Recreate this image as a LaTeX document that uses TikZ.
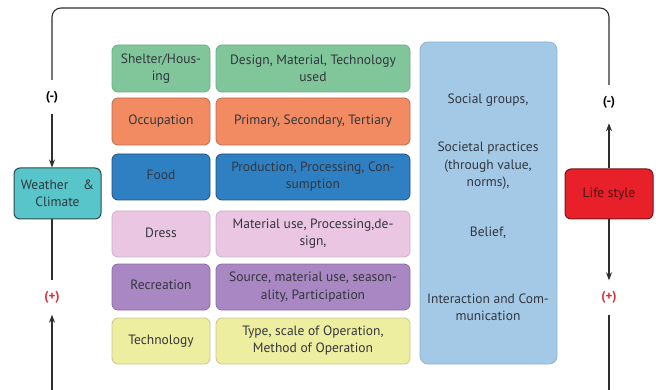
\documentclass[tikz,border=0pt]{standalone}
\usepackage{fontspec}
\setmainfont{PT Sans}
\usetikzlibrary{arrows.meta}
\definecolor{txt}{HTML}{33363D}
\definecolor{ln}{HTML}{2E2E2E}
\definecolor{gF}{HTML}{80C69A}\definecolor{gD}{HTML}{6AAE84}
\definecolor{oF}{HTML}{F28A62}\definecolor{oD}{HTML}{BF6A4C}
\definecolor{bF}{HTML}{2F80C2}\definecolor{bD}{HTML}{1D527E}
\definecolor{pF}{HTML}{EAC6E2}\definecolor{pD}{HTML}{CDAFCB}
\definecolor{vF}{HTML}{A887C3}\definecolor{vD}{HTML}{8A6BA6}
\definecolor{yF}{HTML}{EEEEA0}\definecolor{yD}{HTML}{C6C690}
\definecolor{sF}{HTML}{A3C9E7}\definecolor{sD}{HTML}{8FB4D4}
\definecolor{wF}{HTML}{57C5C9}\definecolor{wD}{HTML}{2A4A50}
\definecolor{rF}{HTML}{E8202A}\definecolor{rD}{HTML}{6B1A1A}
\definecolor{plus}{HTML}{D9303A}
\tikzset{
  box/.style={rectangle, rounded corners=6pt, inner sep=0pt, align=center,
    text=txt, font=\fontsize{13.5}{17}\selectfont, line width=0.8pt},
  lbox/.style={box, minimum width=98pt},
  rbox/.style={box, minimum width=194pt},
  sidebox/.style={box, minimum height=51pt, line width=1pt},
  flow/.style={draw=ln, line width=1.1pt},
  tip/.style={-{Stealth[length=8pt,width=6pt]}},
  sign/.style={inner sep=0pt, minimum height=34pt, font=\fontsize{13}{15}\selectfont\bfseries},
  stext/.style={align=center, text=txt, font=\fontsize{13.5}{17.5}\selectfont},
}
\begin{document}
\begin{tikzpicture}[x=1pt,y=-1pt]
\useasboundingbox (0,0) rectangle (656,390);
% rows
\node[lbox, fill=gF, draw=gD, minimum height=47pt] (r1a) at (161,68.5) {Shelter/Hous-\\ing};
\node[rbox, fill=gF, draw=gD, minimum height=47pt] (r1b) at (313,68.5) {Design, Material, Technology\\used};
\node[lbox, fill=oF, draw=oD, minimum height=47pt] (r2a) at (161,121.5) {\raisebox{2pt}{Occupation}};
\node[rbox, fill=oF, draw=oD, minimum height=47pt] (r2b) at (313,121.5) {Primary, Secondary, Tertiary};
\node[lbox, fill=bF, draw=bD, minimum height=46pt] (r3a) at (161,177) {\raisebox{4pt}{Food}};
\node[rbox, fill=bF, draw=bD, minimum height=46pt] (r3b) at (313,177) {Production, Processing, Con-\\sumption};
\node[lbox, fill=pF, draw=pD, minimum height=46pt] (r4a) at (161,234) {\raisebox{2pt}{Dress}};
\node[rbox, fill=pF, draw=pD, minimum height=46pt] (r4b) at (313,234) {Material use, Processing,de-\\sign,};
\node[lbox, fill=vF, draw=vD, minimum height=46pt] (r5a) at (161,287) {\raisebox{4pt}{Recreation}};
\node[rbox, fill=vF, draw=vD, minimum height=46pt] (r5b) at (313,287) {\raisebox{-3pt}{\shortstack{Source, material use, season-\\[3pt]ality, Participation}}};
\node[lbox, fill=yF, draw=yD, minimum height=46pt] (r6a) at (161,341) {Technology};
\node[rbox, fill=yF, draw=yD, minimum height=46pt] (r6b) at (313,341) {Type, scale of Operation,\\Method of Operation};
% social box
\node[box, rounded corners=8pt, fill=sF, draw=sD, minimum width=137pt, minimum height=322pt] (soc) at (488.5,203) {};
\node[stext] (s1) at (488,100) {Social groups,};
\node[stext] (s2) at (488,166) {Societal practices\\(through value,\\norms),};
\node[stext] (s3) at (488,233) {Belief,};
\node[stext] (s4) at (488,307.5) {Interaction and Com-\\munication};
% side boxes
\node[sidebox, fill=wF, draw=wD, minimum width=87pt] (wea) at (57.5,193.5) {Weather\hspace{1.1em}\&\\Climate};
\node[sidebox, fill=rF, draw=rD, minimum width=88pt, minimum height=50pt, text=rD!70!black] (life) at (609,194) {Life style};
% signs
\node[sign, text=black] (lm) at (52,97) {(-)};
\node[sign, text=plus] (lp) at (52,297.5) {(+)};
\node[sign, text=black] (rm) at (609,102) {(-)};
\node[sign, text=plus] (rp) at (609,297.5) {(+)};
\coordinate (bl) at (52,392);
\coordinate (br) at (609,392);
% loop
\draw[flow, rounded corners=9pt] (lm.north) -- (52,8) -- (609,8) -- (rm.north);
\draw[flow, tip] (lm.south) -- (lm |- wea.north);
\draw[flow] (lp.north) -- (lp |- wea.south);
\draw[flow, tip] (bl) -- (lp.south);
\draw[flow, tip] (life.north) -- ([yshift=-4pt]rm.south);
\draw[flow, tip] (life.south) -- (rp.north);
\draw[flow] (rp.south) -- (br);
\end{tikzpicture}
\end{document}
